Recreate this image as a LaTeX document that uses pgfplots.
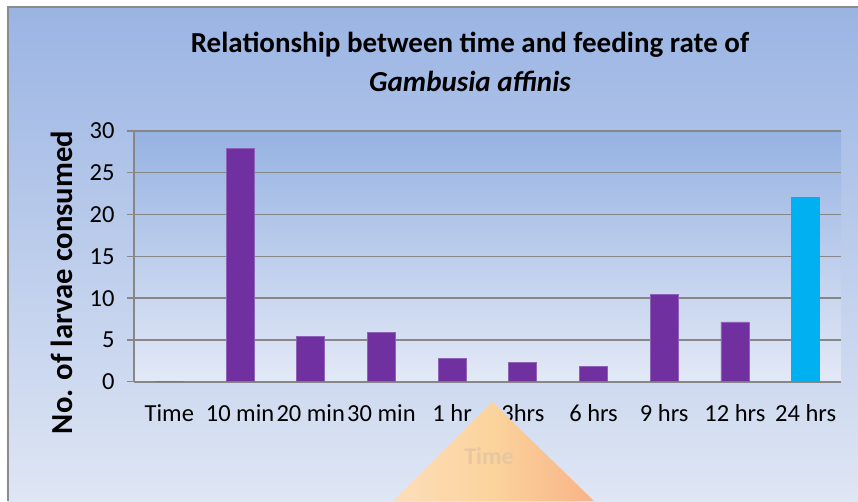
\documentclass[border=0pt]{standalone}
\usepackage{pgfplots}
\pgfplotsset{compat=1.18}
\usepackage{fontspec}
\setmainfont{Carlito}
\definecolor{barpurple}{HTML}{7030A0}
\definecolor{baredge}{HTML}{8E62B8}
\definecolor{barcyan}{HTML}{00B0F0}
\definecolor{gridgray}{HTML}{878787}
\definecolor{bgtop}{HTML}{9AB4E3}
\definecolor{bgbot}{HTML}{DFE6F4}
\definecolor{patop}{HTML}{96B2E2}
\definecolor{pabot}{HTML}{E3E9F6}
\definecolor{framegray}{HTML}{8C8C8C}
\definecolor{triL}{HTML}{FDDDBA}
\definecolor{triM}{HTML}{FBD39C}
\definecolor{triR}{HTML}{F8B387}
\definecolor{tritext}{HTML}{E6C7A2}
\begin{document}
\begin{tikzpicture}
\useasboundingbox (0pt,0pt) rectangle (858pt,501pt);
\fill[white] (0pt,0pt) rectangle (858pt,501pt);
\shade[top color=bgtop, bottom color=bgbot] (8pt,0pt) rectangle (858pt,494pt);
\draw[framegray, line width=1.5pt] (8pt,0pt) -- (8pt,494pt) -- (858pt,494pt);
\begin{axis}[
  at={(134pt,119.3pt)}, anchor=south west,
  scale only axis, width=707pt, height=250.7pt,
  xmin=-0.5, xmax=9.5, ymin=0, ymax=30,
  axis x line=bottom, axis y line=left,
  axis line style={draw=gridgray, line width=1.6pt, -},
  axis background/.style={top color=patop, bottom color=pabot},
  xtick={0,...,9},
  xticklabels={Time,10 min,20 min,30 min,1 hr,3hrs,6 hrs,9 hrs,12 hrs,24 hrs},
  xtick style={draw=none},
  extra x ticks={-0.5,0.5,...,9.5},
  extra x tick labels={},
  extra x tick style={tick style={draw=gridgray, line width=1.6pt}, major tick length=8pt},
  ytick={0,5,...,30},
  ytick style={draw=gridgray, line width=1.4pt},
  major tick length=7pt,
  tick align=outside,
  ymajorgrids,
  grid style={draw=gridgray, line width=1.3pt},
  ticklabel style={font=\fontsize{24.5}{24.5}\selectfont, text=black},
  xticklabel style={anchor=base, yshift=-33pt},
  yticklabel style={anchor=east, xshift=-9pt},
  /pgf/number format/assume math mode=true,
  clip=false,
]
\addplot[ybar, bar width=28pt, bar shift=0pt, fill=barpurple, draw=baredge, line width=0.8pt]
  coordinates {(0,0) (1,27.9) (2,5.45) (3,5.85) (4,2.8) (5,2.35) (6,1.85) (7,10.4) (8,7.15)};
\addplot[ybar, bar width=28pt, bar shift=0pt, fill=barcyan, draw=barcyan, line width=0.8pt]
  coordinates {(9,22)};
\end{axis}
\node[anchor=base, font=\fontsize{29}{29}\selectfont\bfseries] at (470pt,448pt) {Relationship between time and feeding rate of};
\node[anchor=base, font=\fontsize{29}{29}\selectfont\bfseries\itshape] at (470pt,409pt) {Gambusia affinis};
\node[rotate=90, anchor=base, font=\fontsize{30.6}{30.6}\selectfont\bfseries] at (72pt,218.5pt) {No. of larvae consumed};
\shade[left color=triL, right color=triR, middle color=triM] (492pt,99pt) -- (393pt,0pt) -- (594pt,0pt) -- cycle;
\node[font=\fontsize{24}{24}\selectfont\bfseries, text=tritext] at (489pt,45pt) {Time};
\end{tikzpicture}
\end{document}
